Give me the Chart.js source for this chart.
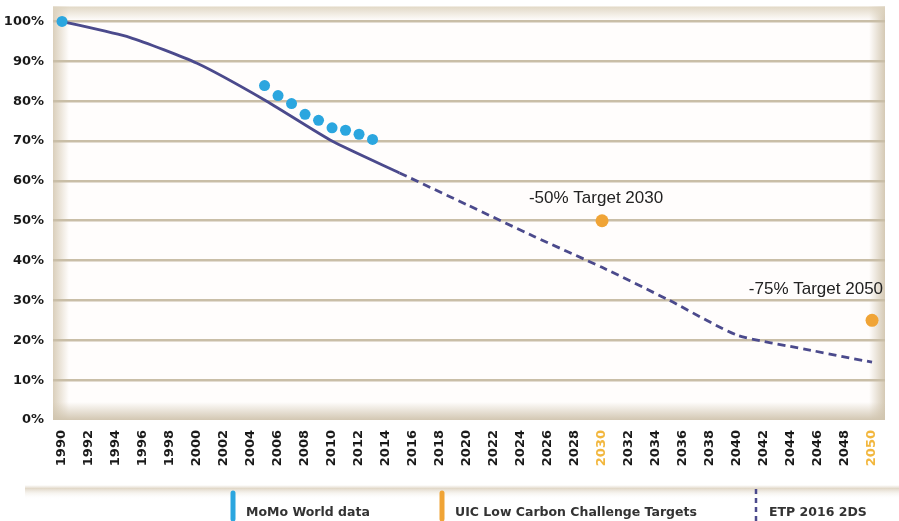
<!DOCTYPE html>
<html>
<head>
<meta charset="utf-8">
<script src="https://cdn.jsdelivr.net/npm/chart.js@4.4.0/dist/chart.umd.min.js"></script>
<style>
  html, body { margin: 0; padding: 0; background: #fff; }
  canvas { display: block; }
</style>
</head>
<body>
<canvas id="chart" width="899" height="521"></canvas>
<script>
// ETP 2016 2DS trajectory (index, 1990 = 100%)
var etpYears = [1990, 1995, 2000, 2005, 2010, 2015, 2020, 2025, 2030, 2035, 2040, 2045, 2050];
var etpValues = [100, 96, 89.5, 80.3, 70, 62, 54, 46, 38.3, 30, 21.3, 17.8, 14.5];

// MoMo world data points
var momoYears = [1990, 2005, 2006, 2007, 2008, 2009, 2010, 2011, 2012, 2013];
var momoValues = [100, 83.9, 81.4, 79.4, 76.7, 75.2, 73.3, 72.7, 71.7, 70.4];

// UIC targets
var targetYears = [2030, 2050];
var targetValues = [50, 25];
var targetLabels = ['-50% Target 2030', '-75% Target 2050'];

var xTicks = [1990, 1992, 1994, 1996, 1998, 2000, 2002, 2004, 2006, 2008, 2010, 2012, 2014, 2016, 2018,
  2020, 2022, 2024, 2026, 2028, 2030, 2032, 2034, 2036, 2038, 2040, 2042, 2044, 2046, 2048, 2050];
var yTicks = [0, 10, 20, 30, 40, 50, 60, 70, 80, 90, 100];
var highlightYears = [2030, 2050];
var seriesNames = ['MoMo World data', 'UIC Low Carbon Challenge Targets', 'ETP 2016 2DS'];

var BLUE = '#2ba6df';
var ORANGE = '#f0a436';
var PURPLE = '#4b4a8c';

function pts(xs, ys) {
  return xs.map(function (x, i) { return { x: x, y: ys[i] }; });
}

// beige panel with soft inner shadow, plus the band under the year labels
var panelPlugin = {
  id: 'panel',
  beforeDraw: function (chart) {
    var ctx = chart.ctx, a = chart.chartArea;
    ctx.save();
    ctx.fillStyle = '#fffdfc';
    ctx.fillRect(a.left, a.top, a.right - a.left, a.bottom - a.top);
    var g;
    g = ctx.createLinearGradient(a.left, 0, a.left + 16, 0);
    g.addColorStop(0, 'rgba(214,202,180,0.9)');
    g.addColorStop(1, 'rgba(214,202,180,0)');
    ctx.fillStyle = g; ctx.fillRect(a.left, a.top, 16, a.bottom - a.top);
    g = ctx.createLinearGradient(a.right, 0, a.right - 16, 0);
    g.addColorStop(0, 'rgba(210,198,176,0.95)');
    g.addColorStop(1, 'rgba(210,198,176,0)');
    ctx.fillStyle = g; ctx.fillRect(a.right - 16, a.top, 16, a.bottom - a.top);
    g = ctx.createLinearGradient(0, a.top, 0, a.top + 14);
    g.addColorStop(0, 'rgba(222,212,192,0.9)');
    g.addColorStop(1, 'rgba(222,212,192,0)');
    ctx.fillStyle = g; ctx.fillRect(a.left, a.top, a.right - a.left, 14);
    g = ctx.createLinearGradient(0, a.bottom, 0, a.bottom - 18);
    g.addColorStop(0, 'rgba(208,196,174,0.95)');
    g.addColorStop(1, 'rgba(208,196,174,0)');
    ctx.fillStyle = g; ctx.fillRect(a.left, a.bottom - 18, a.right - a.left, 18);

    g = ctx.createLinearGradient(0, 485, 0, 499);
    g.addColorStop(0, 'rgba(225,216,200,0)');
    g.addColorStop(0.25, 'rgba(222,212,195,0.9)');
    g.addColorStop(1, 'rgba(255,255,255,0)');
    ctx.fillStyle = g; ctx.fillRect(25, 485, chart.width - 25, 14);
    ctx.restore();
  }
};

// target labels next to the orange points
var targetTextPlugin = {
  id: 'targetText',
  afterDatasetsDraw: function (chart) {
    var ctx = chart.ctx;
    var meta = chart.getDatasetMeta(1);
    ctx.save();
    ctx.font = '17px "Liberation Sans", Arial, sans-serif';
    ctx.fillStyle = '#222';
    ctx.textBaseline = 'alphabetic';
    meta.data.forEach(function (p, i) {
      if (i === meta.data.length - 1) {
        ctx.textAlign = 'right';
        ctx.fillText(targetLabels[i], p.x + 11, p.y - 26);
      } else {
        ctx.textAlign = 'center';
        ctx.fillText(targetLabels[i], p.x - 6, p.y - 18);
      }
    });
    ctx.restore();
  }
};

// legend along the bottom edge
var legendPlugin = {
  id: 'bottomLegend',
  afterDraw: function (chart) {
    var ctx = chart.ctx;
    var xs = [233, 442, 756];
    var colors = [BLUE, ORANGE, PURPLE];
    ctx.save();
    ctx.font = 'bold 12.5px "DejaVu Sans", sans-serif';
    ctx.fillStyle = '#333';
    ctx.textAlign = 'left';
    ctx.textBaseline = 'alphabetic';
    seriesNames.forEach(function (name, i) {
      ctx.strokeStyle = colors[i];
      ctx.beginPath();
      if (i === 2) {
        ctx.lineWidth = 2.5;
        ctx.lineCap = 'butt';
        ctx.setLineDash([5, 4]);
        ctx.moveTo(xs[i], 489);
        ctx.lineTo(xs[i], 521);
      } else {
        ctx.lineWidth = 5;
        ctx.lineCap = 'round';
        ctx.setLineDash([]);
        ctx.moveTo(xs[i], 493);
        ctx.lineTo(xs[i], 519);
      }
      ctx.stroke();
      ctx.setLineDash([]);
      ctx.fillText(name, xs[i] + 13, 516);
    });
    ctx.restore();
  }
};

var ctx = document.getElementById('chart').getContext('2d');
var chart = new Chart(ctx, {
  type: 'line',
  data: {
    datasets: [{
      label: seriesNames[0],
      data: pts(momoYears, momoValues),
      showLine: false,
      pointRadius: 5.5,
      pointBackgroundColor: BLUE,
      pointBorderWidth: 0
    }, {
      label: seriesNames[1],
      data: pts(targetYears, targetValues),
      showLine: false,
      pointRadius: 6.5,
      pointBackgroundColor: ORANGE,
      pointBorderWidth: 0
    }, {
      label: seriesNames[2],
      data: pts(etpYears, etpValues),
      borderColor: PURPLE,
      borderWidth: 2.8,
      pointRadius: 0,
      tension: 0.2,
      segment: {
        borderDash: function (c) { return c.p0.parsed.x >= 2015 ? [8, 5] : undefined; }
      }
    }]
  },
  options: {
    responsive: false,
    animation: false,
    devicePixelRatio: 1,
    layout: { padding: { top: 5, right: 14, left: 0, bottom: 0 } },
    plugins: { legend: { display: false }, tooltip: { enabled: false } },
    scales: {
      x: {
        type: 'linear',
        min: 1989.33,
        max: 2050.96,
        afterBuildTicks: function (s) { s.ticks = xTicks.map(function (v) { return { value: v }; }); },
        afterFit: function (s) { s.height = 101; s.paddingLeft = 0; s.paddingRight = 0; },
        border: { display: false },
        grid: { display: false, drawTicks: false },
        ticks: {
          autoSkip: false,
          minRotation: 90,
          maxRotation: 90,
          padding: 10,
          font: { family: 'DejaVu Sans', size: 13, weight: 'bold' },
          color: function (c) { return highlightYears.indexOf(c.tick.value) >= 0 ? '#f2b73e' : '#1a1a1a'; },
          callback: function (v) { return String(v); }
        }
      },
      y: {
        min: 0,
        max: 103.75,
        afterBuildTicks: function (s) { s.ticks = yTicks.map(function (v) { return { value: v }; }); },
        afterFit: function (s) { s.width = 53; s.paddingTop = 0; s.paddingBottom = 0; },
        border: { display: false },
        grid: {
          drawTicks: false,
          lineWidth: 2.5,
          color: function (c) { return c.tick && c.tick.value === 0 ? 'rgba(0,0,0,0)' : '#c9bea7'; }
        },
        ticks: {
          padding: 9,
          font: { family: 'DejaVu Sans', size: 13, weight: 'bold' },
          color: '#1a1a1a',
          callback: function (v) { return v + '%'; }
        }
      }
    }
  },
  plugins: [panelPlugin, targetTextPlugin, legendPlugin]
});
</script>
</body>
</html>
